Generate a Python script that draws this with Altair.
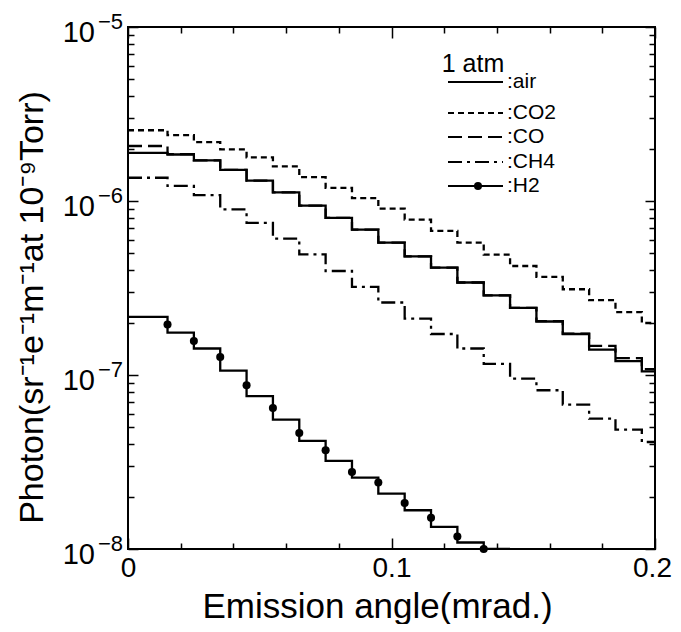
import altair as alt
import pandas as pd

# ---------------- data ----------------
bin_left = [0.0, 0.015, 0.025, 0.035, 0.045, 0.055, 0.065, 0.075, 0.085, 0.095,
            0.105, 0.115, 0.125, 0.135, 0.145, 0.155, 0.165, 0.175, 0.185, 0.195]
x_end = 0.2

air = [1.89e-6, 1.85e-6, 1.71e-6, 1.51e-6, 1.31e-6, 1.12e-6, 9.4e-7, 8.0e-7, 6.85e-7, 5.77e-7,
       4.81e-7, 4.14e-7, 3.40e-7, 2.87e-7, 2.43e-7, 2.03e-7, 1.72e-7, 1.40e-7, 1.20e-7, 1.05e-7]
co = [2.07e-6, 1.86e-6, 1.71e-6, 1.51e-6, 1.31e-6, 1.12e-6, 9.4e-7, 8.0e-7, 6.85e-7, 5.77e-7,
      4.81e-7, 4.14e-7, 3.40e-7, 2.87e-7, 2.43e-7, 2.04e-7, 1.73e-7, 1.47e-7, 1.25e-7, 1.08e-7]
co2 = [2.55e-6, 2.39e-6, 2.18e-6, 1.98e-6, 1.78e-6, 1.58e-6, 1.37e-6, 1.19e-6, 1.04e-6, 9.04e-7,
       7.82e-7, 6.73e-7, 5.77e-7, 4.92e-7, 4.23e-7, 3.66e-7, 3.11e-7, 2.69e-7, 2.30e-7, 1.99e-7]
ch4 = [1.36e-6, 1.22e-6, 1.08e-6, 8.96e-7, 7.48e-7, 6.08e-7, 4.94e-7, 3.96e-7, 3.21e-7, 2.61e-7,
       2.11e-7, 1.72e-7, 1.42e-7, 1.16e-7, 9.53e-8, 8.17e-8, 6.76e-8, 5.61e-8, 4.85e-8, 4.12e-8]
h2 = [2.16e-7, 1.75e-7, 1.42e-7, 1.06e-7, 7.57e-8, 5.54e-8, 4.18e-8, 3.21e-8, 2.57e-8, 2.08e-8,
      1.67e-8, 1.34e-8, 1.09e-8, 1.0e-8]
h2_end = 0.145

h2_dot_x = [0.015, 0.025, 0.035, 0.045, 0.055, 0.065, 0.075, 0.085, 0.095, 0.105, 0.115, 0.125, 0.135]
h2_dot_y = [1.95e-7, 1.57e-7, 1.27e-7, 8.73e-8, 6.46e-8, 4.64e-8, 3.69e-8, 2.77e-8, 2.41e-8,
            1.84e-8, 1.51e-8, 1.18e-8, 1.0e-8]

decades = [1e-8, 1e-7, 1e-6, 1e-5]
decade_exp = ["\u22128", "\u22127", "\u22126", "\u22125"]

x_ticks = [0.0, 0.02, 0.04, 0.06, 0.08, 0.1, 0.12, 0.14, 0.16, 0.18, 0.2]
y_ticks = sorted([m * 10.0 ** e for e in (-8, -7, -6) for m in range(1, 10)] + [1e-5])

legend_labels = [":air", ":CO2", ":CO", ":CH4", ":H2"]


def steps(vals, end):
    xs = bin_left[:len(vals)] + [end]
    ys = list(vals) + [vals[-1]]
    return pd.DataFrame({"x": xs, "y": ys})


FONT = "Liberation Sans"
X = alt.Scale(domain=[0, 0.2], nice=False, zero=False)
Y = alt.Scale(type="log", domain=[1e-8, 1e-5], nice=False)

xmajor = "abs(datum.value*10 - round(datum.value*10)) < 0.001"
decade = "abs(log(datum.value)/LN10 - round(log(datum.value)/LN10)) < 0.01"

common = dict(domain=False, grid=False, tickColor="black", tickWidth=1.5)

ax_bottom = alt.Axis(values=x_ticks, tickSize={"expr": f"{xmajor} ? -11 : -6"},
                     labelExpr=f"{xmajor} ? format(datum.value, '.1~f') : ''",
                     labelOffset={"expr": "datum.value > 0.19 ? -3 : 0"},
                     labelFlush=False, labelOverlap=False, labelFont=FONT, labelFontSize=28,
                     labelColor="black", labelPadding=16, labelBaseline="top",
                     title="Emission angle(mrad.)", titleFont=FONT, titleFontSize=35,
                     titleFontWeight="normal", titleColor="black", titleX=249, titleY=68,
                     titleBaseline="alphabetic", titleAlign="center", **common)
ax_top = alt.Axis(orient="top", values=x_ticks, tickSize={"expr": f"{xmajor} ? -11 : -6"},
                  labels=False, title=None, **common)
ax_left = alt.Axis(values=y_ticks, tickSize={"expr": f"{decade} ? -10 : -6"}, labels=False,
                   title="Photon(sr\u207b\u00b9e\u207b\u00b9m\u207b\u00b9at 10\u207b\u2079Torr)",
                   titleFont=FONT, titleFontSize=34, titleFontWeight="normal", titleColor="black",
                   titleAngle=270, titleX=-96, titleY=280, titleBaseline="middle",
                   titleAlign="center", **common)
ax_right = alt.Axis(orient="right", values=y_ticks, tickSize={"expr": f"{decade} ? -10 : -6"},
                    labels=False, title=None, **common)


def line(df, dash=None, xaxis=None, yaxis=None):
    kw = dict(interpolate="step-after", color="black", strokeWidth=2.3, clip=True)
    if dash:
        kw["strokeDash"] = dash
    return alt.Chart(df).mark_line(**kw).encode(
        x=alt.X("x:Q", scale=X, axis=xaxis),
        y=alt.Y("y:Q", scale=Y, axis=yaxis),
    )


DASH_CO2 = [6, 4]
DASH_CO = [14, 6]
DASH_CH4 = [14, 5, 3, 5]

l_co2 = line(steps(co2, x_end), DASH_CO2, ax_top, ax_right)
l_co = line(steps(co, x_end), DASH_CO)
l_ch4 = line(steps(ch4, x_end), DASH_CH4)
l_air = line(steps(air, x_end), None, ax_bottom, ax_left)
l_h2 = line(steps(h2, h2_end))

dots = alt.Chart(pd.DataFrame({"x": h2_dot_x, "y": h2_dot_y})).mark_point(
    filled=True, color="black", size=65, opacity=1, clip=False).encode(
    x=alt.X("x:Q", scale=X, axis=None), y=alt.Y("y:Q", scale=Y, axis=None))

dec_df = pd.DataFrame({"v": decades, "e": decade_exp})
lab10 = alt.Chart(dec_df).mark_text(text="10", align="right", baseline="middle", font=FONT,
                                    fontSize=29, dy=6, color="black").encode(
    x=alt.value(-33), y=alt.Y("v:Q", scale=Y, axis=None))
labexp = alt.Chart(dec_df).mark_text(align="right", baseline="middle", font=FONT,
                                     fontSize=22, dy=-5, color="black").encode(
    x=alt.value(-5), y=alt.Y("v:Q", scale=Y, axis=None), text="e:N")

# ---------------- manual legend ----------------
one = pd.DataFrame({"a": [0]})
rows_y = [55, 86, 110, 135, 159]
dashes = [None, DASH_CO2, DASH_CO, DASH_CH4, None]
legend_layers = [
    alt.Chart(one).mark_text(text="1 atm", align="center", baseline="alphabetic", font=FONT,
                             fontSize=25, color="black").encode(x=alt.value(345), y=alt.value(45))
]
for lab, ry, dsh in zip(legend_labels, rows_y, dashes):
    kw = dict(color="black", strokeWidth=2)
    if dsh:
        kw["strokeDash"] = dsh
    legend_layers.append(alt.Chart(one).mark_rule(**kw).encode(
        x=alt.value(320), x2=alt.value(375), y=alt.value(ry)))
    legend_layers.append(alt.Chart(one).mark_text(text=lab, align="left", baseline="middle",
                                                  font=FONT, fontSize=21, color="black").encode(
        x=alt.value(379), y=alt.value(ry)))
legend_layers.append(alt.Chart(one).mark_point(filled=True, color="black", size=65, opacity=1).encode(
    x=alt.value(350), y=alt.value(rows_y[4])))

chart = alt.layer(l_co2, l_co, l_ch4, l_air, l_h2, dots, lab10, labexp, *legend_layers).resolve_axis(
    x="independent", y="independent"
).properties(
    width=527, height=522,
    autosize=alt.AutoSizeParams(type="none"),
    padding={"left": 120, "top": 19, "right": 18, "bottom": 75},
    background="white",
).configure_view(stroke="black", strokeWidth=2)

chart.save("out.html", embed_options={"renderer": "svg", "actions": False})
